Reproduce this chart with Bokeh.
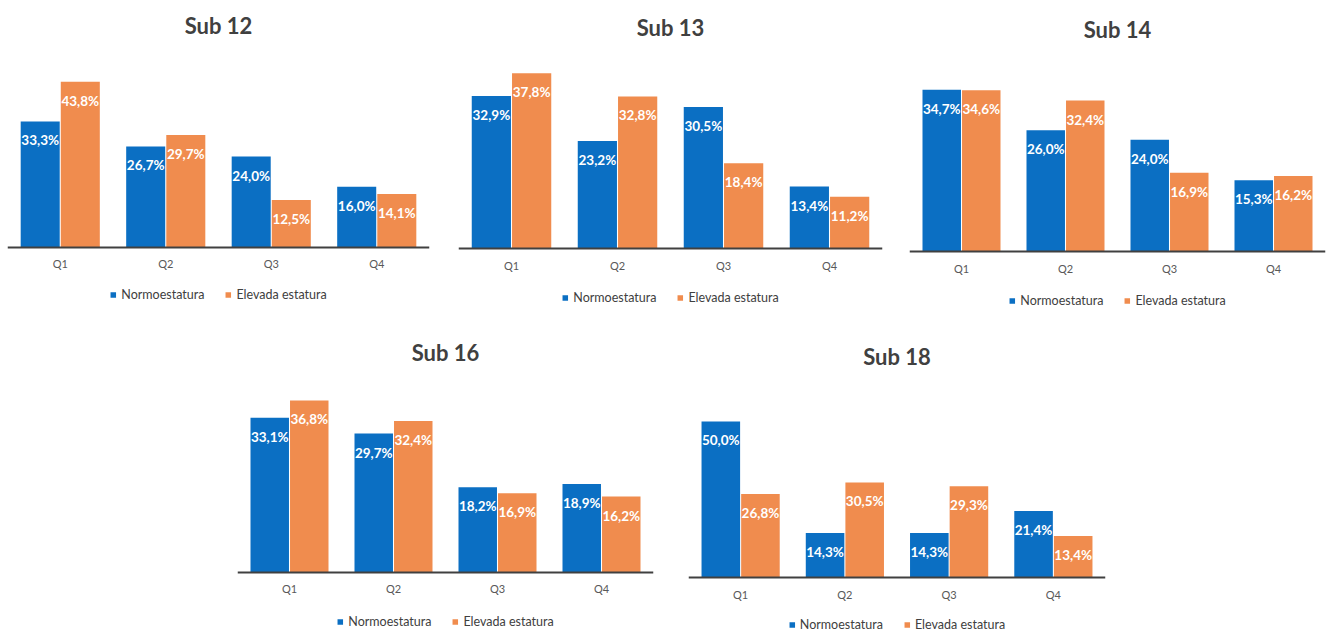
from bokeh.plotting import figure
from bokeh.models import (ColumnDataSource, FactorRange, Range1d, LabelSet, Legend,
                          LegendItem, Spacer)
from bokeh.core.properties import value
from bokeh.transform import dodge
from bokeh.layouts import row, column
from bokeh.embed import file_html
from bokeh.resources import INLINE

quartiles = ["Q1", "Q2", "Q3", "Q4"]
series_names = ["Normoestatura", "Elevada estatura"]

titles = ["Sub 12", "Sub 13", "Sub 14", "Sub 16", "Sub 18"]
normo = [
    [33.3, 26.7, 24.0, 16.0],
    [32.9, 23.2, 30.5, 13.4],
    [34.7, 26.0, 24.0, 15.3],
    [33.1, 29.7, 18.2, 18.9],
    [50.0, 14.3, 14.3, 21.4],
]
elevada = [
    [43.8, 29.7, 12.5, 14.1],
    [37.8, 32.8, 18.4, 11.2],
    [34.6, 32.4, 16.9, 16.2],
    [36.8, 32.4, 16.9, 16.2],
    [26.8, 30.5, 29.3, 13.4],
]

BLUE = "#0B6FC3"
ORANGE = "#F08C4E"
FONT = "Lato"

# panel geometry in pixels: figure size, side borders, frame top (shared per row),
# title standoff, baseline position inside the figure, pixels per percent, legend margin
panels = [
    dict(w=443, h=318, l=7, r=14, top=48, ts=19, base=246.7, ppu=3.776, lm=16),
    dict(w=452, h=318, l=15, r=13, top=48, ts=15, base=248.3, ppu=4.646, lm=13),
    dict(w=437, h=318, l=14, r=7, top=48, ts=11, base=251.0, ppu=4.660, lm=10),
    dict(w=448, h=314, l=15, r=17, top=57, ts=19, base=253.7, ppu=4.666, lm=3),
    dict(w=450, h=314, l=18, r=15, top=57, ts=11, base=259.3, ppu=3.127, lm=0),
]


def fmt(v):
    return f"{v:.1f}".replace(".", ",") + "%"


def make_panel(title, a, b, g):
    src = ColumnDataSource(dict(
        q=quartiles, a=a, b=b,
        ta=[fmt(v) for v in a], tb=[fmt(v) for v in b],
    ))
    y_hi = (g["base"] - g["top"]) / g["ppu"]
    y_lo = -(g["h"] - g["base"]) / g["ppu"]
    p = figure(x_range=FactorRange(*quartiles), y_range=Range1d(y_lo, y_hi),
               width=g["w"], height=g["h"], output_backend="svg",
               toolbar_location=None, min_border_left=g["l"], min_border_right=g["r"],
               min_border_top=g["top"], min_border_bottom=0)
    p.title.text = title
    p.title.align = "center"
    p.title.standoff = g["ts"]
    p.title.text_font = FONT
    p.title.text_font_size = "22px"
    p.title.text_font_style = "bold"
    p.title.text_color = "#404040"

    ra = p.vbar(x=dodge("q", -0.19, range=p.x_range), top="a", width=0.37,
                source=src, color=BLUE, line_color=None)
    rb = p.vbar(x=dodge("q", 0.19, range=p.x_range), top="b", width=0.37,
                source=src, color=ORANGE, line_color=None)

    # value labels just inside the top of each bar
    for col, off in (("ta", -0.19), ("tb", 0.19)):
        p.add_layout(LabelSet(x=dodge("q", off, range=p.x_range),
                              y=col[1], text=col, source=src,
                              y_offset=-19, text_align="center", text_baseline="middle",
                              text_color="white", text_font=value(FONT),
                              text_font_style="bold", text_font_size="13.5px"))

    p.yaxis.visible = False
    p.xgrid.visible = False
    p.ygrid.visible = False
    p.outline_line_color = None
    ax = p.xaxis[0]
    ax.fixed_location = 0
    ax.axis_line_color = "#404040"
    ax.axis_line_width = 2
    ax.major_tick_line_color = None
    ax.minor_tick_line_color = None
    ax.major_tick_out = 0
    ax.major_tick_in = 0
    ax.major_label_text_font = FONT
    ax.major_label_text_font_size = "11px"
    ax.major_label_text_color = "#595959"
    ax.major_label_standoff = 10

    legend = Legend(items=[LegendItem(label=series_names[0], renderers=[ra]),
                           LegendItem(label=series_names[1], renderers=[rb])],
                    orientation="horizontal", location="bottom_center",
                    glyph_width=7, glyph_height=7, label_height=14,
                    label_standoff=5, spacing=20,
                    label_text_font=FONT, label_text_font_size="12.5px",
                    label_text_color="#404040", border_line_color=None,
                    background_fill_alpha=0, padding=0, margin=g["lm"])
    p.add_layout(legend, "center")
    return p


figs = [make_panel(t, a, b, g) for t, a, b, g in zip(titles, normo, elevada, panels)]

top = row(figs[0], figs[1], figs[2], spacing=0)
bottom = row(Spacer(width=222, height=314), figs[3], figs[4], spacing=0)
layout = column(top, bottom, spacing=0)

with open("out.html", "w") as f:
    f.write(file_html(layout, INLINE))
